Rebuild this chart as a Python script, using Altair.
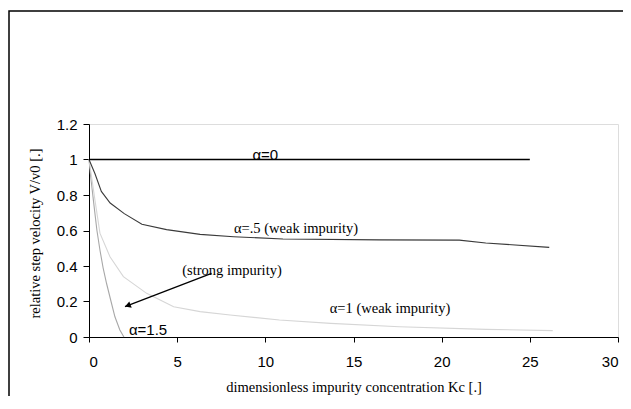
import altair as alt
import pandas as pd

# ---- data ----
a0_x = [0, 25]
a0_y = [1, 1]
a05_x = [0, 0.34, 0.7, 1.2, 2, 3, 4.4, 6.3, 8.2, 11, 16.5, 21, 22.5, 26.1]
a05_y = [1, 0.92, 0.82, 0.755, 0.695, 0.635, 0.605, 0.578, 0.565, 0.552, 0.547, 0.546, 0.53, 0.505]
a1_x = [0, 0.15, 0.34, 0.62, 1.19, 1.95, 3.27, 4.8, 6.3, 8, 10.8, 13.7, 17.6, 22.5, 26.3]
a1_y = [1, 0.9, 0.77, 0.585, 0.452, 0.34, 0.246, 0.17, 0.143, 0.124, 0.096, 0.077, 0.058, 0.043, 0.036]
a15_x = [0, 0.1, 0.25, 0.45, 0.62, 0.8, 1.0, 1.25, 1.47, 1.75, 1.98]
a15_y = [1, 0.9, 0.77, 0.6, 0.49, 0.39, 0.30, 0.2, 0.114, 0.04, 0]

sans_labels = ["α=0", "α=1.5"]
sans_x = [10.0, 3.35]
sans_y = [1.0, 0.011]

serif_labels = ["α=.5 (weak impurity)", "(strong impurity)", "α=1 (weak impurity)"]
serif_x = [11.74, 8.11, 17.07]
serif_y = [0.586, 0.349, 0.135]

arrow_x = [6.95, 2.04]
arrow_y = [0.359, 0.171]
head_x = [2.20]
head_y = [0.177]

x_ticks = [0, 5, 10, 15, 20, 25, 30]
y_ticks = [0, 0.2, 0.4, 0.6, 0.8, 1.0, 1.2]

SANS = "Liberation Sans"
SERIF = "Liberation Serif"

xscale = alt.Scale(domain=[0, 30], nice=False, zero=False)
yscale = alt.Scale(domain=[0, 1.2], nice=False, zero=False)

xaxis = alt.Axis(values=x_ticks, format="~g", grid=False, domainColor="black",
                 tickColor="black", tickSize=5, labelFont=SANS, labelFontSize=15,
                 labelColor="black", labelPadding=12,
                 title="dimensionless impurity concentration Kc [.]",
                 titleFont=SERIF, titleFontSize=14.5, titleFontWeight="normal",
                 titleColor="black", titleY=54, titleBaseline="alphabetic")
yaxis = alt.Axis(values=y_ticks, format="~g", grid=False, domainColor="black",
                 tickColor="black", tickSize=6, labelFont=SANS, labelFontSize=15,
                 labelColor="black", labelPadding=6,
                 title="relative step velocity V/v0 [.]",
                 titleFont=SERIF, titleFontSize=14.5, titleFontWeight="normal",
                 titleColor="black", titleX=-50, titleY=109, titleBaseline="alphabetic")


def enc(chart):
    return chart.encode(
        x=alt.X("x:Q", scale=xscale, axis=xaxis),
        y=alt.Y("y:Q", scale=yscale, axis=yaxis),
    )


def line(xs, ys, color, width):
    df = pd.DataFrame({"x": xs, "y": ys})
    return enc(alt.Chart(df).mark_line(color=color, strokeWidth=width))


frame = alt.Chart(pd.DataFrame({"a": [0]})).mark_rect(
    fill=None, stroke="black", strokeWidth=1.5
).encode(x=alt.value(-80), x2=alt.value(600), y=alt.value(-113), y2=alt.value(300))

l15 = line(a15_x, a15_y, "#a8a8a8", 1.1)
l1 = line(a1_x, a1_y, "#d6d6d6", 1.1)
l05 = line(a05_x, a05_y, "#3a3a3a", 1.1)
l0 = line(a0_x, a0_y, "black", 1.3)

arrow = line(arrow_x, arrow_y, "black", 1.3)
head = enc(alt.Chart(pd.DataFrame({"x": head_x, "y": head_y})).mark_point(
    shape="triangle-up", filled=True, color="black", size=45, angle=249, opacity=1))

t_sans = enc(alt.Chart(pd.DataFrame({"x": sans_x, "y": sans_y, "t": sans_labels})).mark_text(
    font=SANS, fontSize=15, color="black", align="center", baseline="alphabetic")).encode(text="t:N")
t_serif = enc(alt.Chart(pd.DataFrame({"x": serif_x, "y": serif_y, "t": serif_labels})).mark_text(
    font=SERIF, fontSize=14.5, color="black", align="center", baseline="alphabetic")).encode(text="t:N")

chart = alt.layer(frame, l15, l1, l05, l0, arrow, head, t_sans, t_serif).properties(
    width=529, height=213,
    padding={"left": 81, "top": 116, "right": 5, "bottom": 59},
    autosize=alt.AutoSizeParams(type="none"),
).configure_view(stroke="#9a9a9a", strokeWidth=1).configure(background="white")

chart.save("out.html", embed_options={"renderer": "svg", "actions": False})
